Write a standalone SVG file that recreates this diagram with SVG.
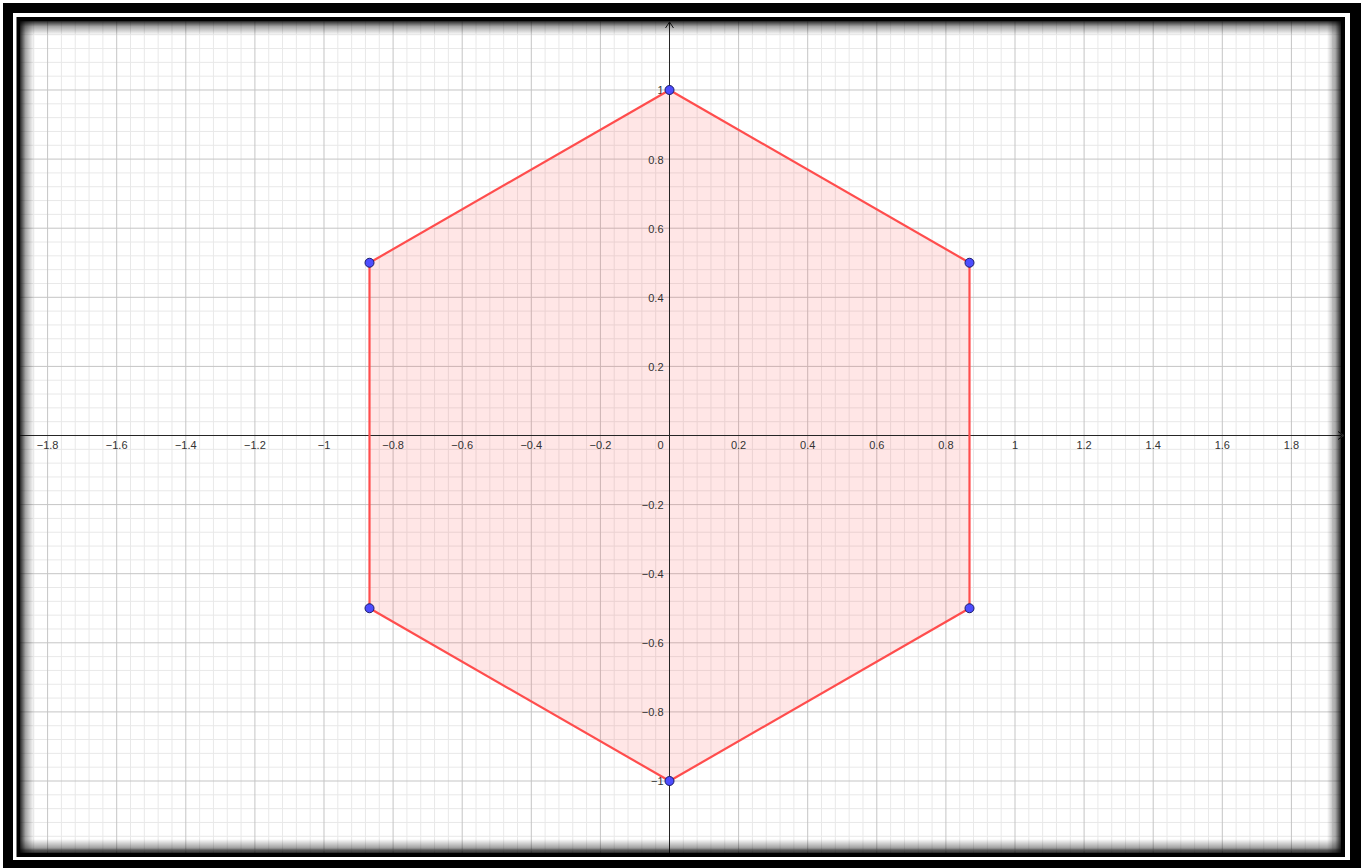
<svg xmlns="http://www.w3.org/2000/svg" width="1367" height="868" viewBox="0 0 1367 868">
<style>
.lbl{font-family:"Liberation Sans","DejaVu Sans",Arial,sans-serif;font-size:11px;fill:#333333}
.xl{text-anchor:middle}
.yl{text-anchor:end}
.pt{fill:#4d4dff;stroke:#1a1a66;stroke-width:1}
.axis{stroke:#262626;stroke-width:1;fill:none}
</style>
<defs>
<pattern id="grid" patternUnits="userSpaceOnUse" x="669" y="435" width="69.1" height="69.1">
<rect x="13.82" y="0" width="1" height="69.1" fill="#e8e8e8"/>
<rect x="27.64" y="0" width="1" height="69.1" fill="#e8e8e8"/>
<rect x="41.46" y="0" width="1" height="69.1" fill="#e8e8e8"/>
<rect x="55.28" y="0" width="1" height="69.1" fill="#e8e8e8"/>
<rect x="0" y="13.82" width="69.1" height="1" fill="#e8e8e8"/>
<rect x="0" y="27.64" width="69.1" height="1" fill="#e8e8e8"/>
<rect x="0" y="41.46" width="69.1" height="1" fill="#e8e8e8"/>
<rect x="0" y="55.28" width="69.1" height="1" fill="#e8e8e8"/>
<rect x="0" y="0" width="1" height="69.1" fill="#c4c4c4"/>
<rect x="0" y="0" width="69.1" height="1" fill="#c4c4c4"/>
</pattern>
<linearGradient id="shL" x1="0" y1="0" x2="1" y2="0">
<stop offset="0" stop-color="#000" stop-opacity="0.85"/>
<stop offset="0.4" stop-color="#000" stop-opacity="0.35"/>
<stop offset="1" stop-color="#000" stop-opacity="0"/>
</linearGradient>
<linearGradient id="shR" x1="1" y1="0" x2="0" y2="0">
<stop offset="0" stop-color="#000" stop-opacity="0.85"/>
<stop offset="0.4" stop-color="#000" stop-opacity="0.35"/>
<stop offset="1" stop-color="#000" stop-opacity="0"/>
</linearGradient>
<linearGradient id="shT" x1="0" y1="0" x2="0" y2="1">
<stop offset="0" stop-color="#000" stop-opacity="0.85"/>
<stop offset="0.4" stop-color="#000" stop-opacity="0.35"/>
<stop offset="1" stop-color="#000" stop-opacity="0"/>
</linearGradient>
<linearGradient id="shB" x1="0" y1="1" x2="0" y2="0">
<stop offset="0" stop-color="#000" stop-opacity="0.85"/>
<stop offset="0.4" stop-color="#000" stop-opacity="0.35"/>
<stop offset="1" stop-color="#000" stop-opacity="0"/>
</linearGradient>
</defs>

<!-- frame -->
<g id="frame">
<rect x="0" y="0" width="1367" height="868" fill="#ffffff"/>
<rect x="3" y="3" width="1358" height="870" fill="#000000"/>
<rect x="13" y="13" width="1337" height="847" fill="#ffffff"/>
<rect x="16.5" y="17" width="1328.5" height="840" fill="#000000"/>
<rect x="20" y="21" width="1321" height="832" fill="#ffffff"/>
</g>

<!-- grid -->
<g id="grid-layer">
<rect x="20" y="21" width="1321" height="832" fill="url(#grid)"/>
</g>

<!-- hexagon -->
<g id="hexagon">
<polygon points="669.5,90 969.5,262.75 969.5,608.25 669.5,781 369.5,608.25 369.5,262.75" fill="#ff4d4d" fill-opacity="0.14" stroke="none"/>
</g>

<!-- axes -->
<g id="axes">
<line class="axis" x1="20" y1="435.5" x2="1344" y2="435.5"/>
<polyline class="axis" points="1338,431.5 1344,435.5 1338,439.5"/>
<line class="axis" x1="669.5" y1="22" x2="669.5" y2="853"/>
<polyline class="axis" points="665.5,28 669.5,22 673.5,28"/>
</g>

<!-- axis labels -->
<g id="x-labels" class="lbl xl">
<text x="47.6" y="449">−1.8</text>
<text x="116.7" y="449">−1.6</text>
<text x="185.8" y="449">−1.4</text>
<text x="254.9" y="449">−1.2</text>
<text x="324" y="449">−1</text>
<text x="393.1" y="449">−0.8</text>
<text x="462.2" y="449">−0.6</text>
<text x="531.3" y="449">−0.4</text>
<text x="600.4" y="449">−0.2</text>
<text x="738.6" y="449">0.2</text>
<text x="807.7" y="449">0.4</text>
<text x="876.8" y="449">0.6</text>
<text x="945.9" y="449">0.8</text>
<text x="1015" y="449">1</text>
<text x="1084.1" y="449">1.2</text>
<text x="1153.2" y="449">1.4</text>
<text x="1222.3" y="449">1.6</text>
<text x="1291.4" y="449">1.8</text>
</g>
<g id="y-labels" class="lbl yl">
<text x="663.5" y="449">0</text>
<text x="663.5" y="94.4">1</text>
<text x="663.5" y="163.5">0.8</text>
<text x="663.5" y="232.6">0.6</text>
<text x="663.5" y="301.7">0.4</text>
<text x="663.5" y="370.8">0.2</text>
<text x="663.5" y="509">−0.2</text>
<text x="663.5" y="578.1">−0.4</text>
<text x="663.5" y="647.2">−0.6</text>
<text x="663.5" y="716.3">−0.8</text>
<text x="663.5" y="785.4">−1</text>
</g>

<!-- edges -->
<g id="connectors" fill="none" stroke="#ff4d4d" stroke-width="2.2" stroke-linejoin="round">
<line x1="669.5" y1="90" x2="969.5" y2="262.75"/>
<line x1="969.5" y1="262.75" x2="969.5" y2="608.25"/>
<line x1="969.5" y1="608.25" x2="669.5" y2="781"/>
<line x1="669.5" y1="781" x2="369.5" y2="608.25"/>
<line x1="369.5" y1="608.25" x2="369.5" y2="262.75"/>
<line x1="369.5" y1="262.75" x2="669.5" y2="90"/>
</g>

<!-- vertices -->
<g id="vA"><circle class="pt" cx="669.5" cy="90" r="4.5"/></g>
<g id="vB"><circle class="pt" cx="969.5" cy="262.75" r="4.5"/></g>
<g id="vC"><circle class="pt" cx="969.5" cy="608.25" r="4.5"/></g>
<g id="vD"><circle class="pt" cx="669.5" cy="781" r="4.5"/></g>
<g id="vE"><circle class="pt" cx="369.5" cy="608.25" r="4.5"/></g>
<g id="vF"><circle class="pt" cx="369.5" cy="262.75" r="4.5"/></g>

<!-- inner shadow -->
<g id="inner-shadow">
<rect x="20" y="21" width="14" height="832" fill="url(#shL)"/>
<rect x="1327" y="21" width="14" height="832" fill="url(#shR)"/>
<rect x="20" y="21" width="1321" height="14" fill="url(#shT)"/>
<rect x="20" y="839" width="1321" height="14" fill="url(#shB)"/>
</g>
</svg>
